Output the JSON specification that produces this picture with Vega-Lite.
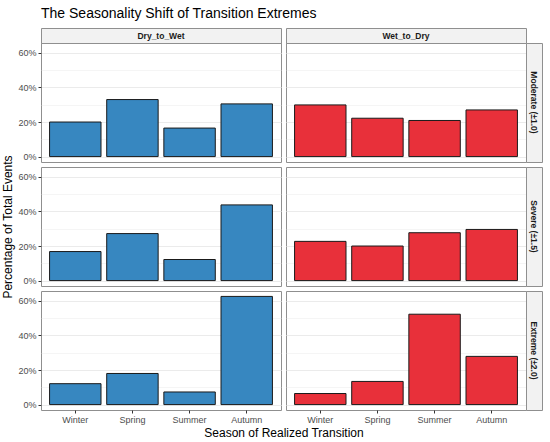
{
  "$schema": "https://vega.github.io/schema/vega-lite/v6.json",
  "padding": {"left": 1, "top": 6, "right": 5, "bottom": 5},
  "title": {"text": "The Seasonality Shift of Transition Extremes", "anchor": "start", "frame": "group", "fontSize": 14, "fontWeight": "normal", "font": "Liberation Sans", "color": "#000000", "offset": 5},
  "datasets": {
    "events": [
      {"direction": "Dry_to_Wet", "severity": "Moderate", "season": "Winter", "pct": 20.0},
      {"direction": "Dry_to_Wet", "severity": "Moderate", "season": "Spring", "pct": 33.0},
      {"direction": "Dry_to_Wet", "severity": "Moderate", "season": "Summer", "pct": 16.5},
      {"direction": "Dry_to_Wet", "severity": "Moderate", "season": "Autumn", "pct": 30.5},
      {"direction": "Wet_to_Dry", "severity": "Moderate", "season": "Winter", "pct": 29.9},
      {"direction": "Wet_to_Dry", "severity": "Moderate", "season": "Spring", "pct": 22.2},
      {"direction": "Wet_to_Dry", "severity": "Moderate", "season": "Summer", "pct": 20.9},
      {"direction": "Wet_to_Dry", "severity": "Moderate", "season": "Autumn", "pct": 27.0},
      {"direction": "Dry_to_Wet", "severity": "Severe", "season": "Winter", "pct": 16.8},
      {"direction": "Dry_to_Wet", "severity": "Severe", "season": "Spring", "pct": 27.2},
      {"direction": "Dry_to_Wet", "severity": "Severe", "season": "Summer", "pct": 12.2},
      {"direction": "Dry_to_Wet", "severity": "Severe", "season": "Autumn", "pct": 43.8},
      {"direction": "Wet_to_Dry", "severity": "Severe", "season": "Winter", "pct": 22.7},
      {"direction": "Wet_to_Dry", "severity": "Severe", "season": "Spring", "pct": 20.0},
      {"direction": "Wet_to_Dry", "severity": "Severe", "season": "Summer", "pct": 27.7},
      {"direction": "Wet_to_Dry", "severity": "Severe", "season": "Autumn", "pct": 29.6},
      {"direction": "Dry_to_Wet", "severity": "Extreme", "season": "Winter", "pct": 12.1},
      {"direction": "Dry_to_Wet", "severity": "Extreme", "season": "Spring", "pct": 18.0},
      {"direction": "Dry_to_Wet", "severity": "Extreme", "season": "Summer", "pct": 7.3},
      {"direction": "Dry_to_Wet", "severity": "Extreme", "season": "Autumn", "pct": 62.6},
      {"direction": "Wet_to_Dry", "severity": "Extreme", "season": "Winter", "pct": 6.4},
      {"direction": "Wet_to_Dry", "severity": "Extreme", "season": "Spring", "pct": 13.4},
      {"direction": "Wet_to_Dry", "severity": "Extreme", "season": "Summer", "pct": 52.3},
      {"direction": "Wet_to_Dry", "severity": "Extreme", "season": "Autumn", "pct": 27.9}
    ]
  },
  "columns": 4,
  "spacing": 0,
  "bounds": "flush",
  "concat": [
    {
      "width": 240, "height": 15,
      "data": {"values": [{"label": "Dry_to_Wet"}]},
      "view": {"fill": "#f2f2f2", "stroke": "#8f8f8f"},
      "mark": {"type": "text", "fontWeight": "bold", "fontSize": 8.5, "font": "Liberation Sans", "color": "#1a1a1a"},
      "encoding": {"text": {"field": "label"}}
    },
    {
      "width": 5, "height": 1,
      "data": {"values": [{}]},
      "mark": "point",
      "encoding": {"opacity": {"value": 0}}
    },
    {
      "width": 240, "height": 15,
      "data": {"values": [{"label": "Wet_to_Dry"}]},
      "view": {"fill": "#f2f2f2", "stroke": "#8f8f8f"},
      "mark": {"type": "text", "fontWeight": "bold", "fontSize": 8.5, "font": "Liberation Sans", "color": "#1a1a1a"},
      "encoding": {"text": {"field": "label"}}
    },
    {
      "width": 16, "height": 1,
      "data": {"values": [{}]},
      "mark": "point",
      "encoding": {"opacity": {"value": 0}}
    },

    {
      "width": 240, "height": 119,
      "data": {"name": "events"},
      "transform": [{"filter": "datum.direction === 'Dry_to_Wet' && datum.severity === 'Moderate'"}],
      "view": {"stroke": "#8f8f8f"},
      "mark": {"type": "bar", "fill": "#3787c0", "stroke": "#1a1a1a", "strokeWidth": 1},
      "encoding": {
        "x": {"field": "season", "type": "nominal", "sort": ["Winter", "Spring", "Summer", "Autumn"],
              "scale": {"paddingInner": 0.1, "paddingOuter": 0.15},
              "axis": {"labels": false, "ticks": false, "title": null, "bandPosition": 0.5}},
        "y": {"field": "pct", "type": "quantitative", "scale": {"domain": [-3.13, 65.73], "nice": false, "zero": false},
              "axis": {"values": [0, 10, 20, 30, 40, 50, 60], "title": null,
                       "labelExpr": "datum.value % 20 === 0 ? datum.value + '%' : ''",
                       "tickColor": {"expr": "datum.value % 20 === 0 ? '#333333' : 'transparent'"},
                       "gridWidth": {"expr": "datum.value % 20 === 0 ? 1 : 0.5"}}},
        "y2": {"datum": 0}
      }
    },
    {
      "width": 5, "height": 1,
      "data": {"values": [{}]},
      "mark": "point",
      "encoding": {"opacity": {"value": 0}}
    },
    {
      "width": 240, "height": 119,
      "data": {"name": "events"},
      "transform": [{"filter": "datum.direction === 'Wet_to_Dry' && datum.severity === 'Moderate'"}],
      "view": {"stroke": "#8f8f8f"},
      "mark": {"type": "bar", "fill": "#e8303a", "stroke": "#1a1a1a", "strokeWidth": 1},
      "encoding": {
        "x": {"field": "season", "type": "nominal", "sort": ["Winter", "Spring", "Summer", "Autumn"],
              "scale": {"paddingInner": 0.1, "paddingOuter": 0.15},
              "axis": {"labels": false, "ticks": false, "title": null, "bandPosition": 0.5}},
        "y": {"field": "pct", "type": "quantitative", "scale": {"domain": [-3.13, 65.73], "nice": false, "zero": false},
              "axis": {"values": [0, 10, 20, 30, 40, 50, 60], "title": null, "labels": false, "ticks": false,
                       "gridWidth": {"expr": "datum.value % 20 === 0 ? 1 : 0.5"}}},
        "y2": {"datum": 0}
      }
    },
    {
      "width": 16, "height": 119,
      "data": {"values": [{"label": "Moderate (±1.0)"}]},
      "view": {"fill": "#f2f2f2", "stroke": "#8f8f8f"},
      "mark": {"type": "text", "angle": 90, "fontWeight": "bold", "fontSize": 8.5, "font": "Liberation Sans", "color": "#1a1a1a"},
      "encoding": {"text": {"field": "label"}}
    },

    {"width": 1, "height": 5, "data": {"values": [{}]}, "mark": "point", "encoding": {"opacity": {"value": 0}}},
    {"width": 1, "height": 5, "data": {"values": [{}]}, "mark": "point", "encoding": {"opacity": {"value": 0}}},
    {"width": 1, "height": 5, "data": {"values": [{}]}, "mark": "point", "encoding": {"opacity": {"value": 0}}},
    {"width": 1, "height": 5, "data": {"values": [{}]}, "mark": "point", "encoding": {"opacity": {"value": 0}}},

    {
      "width": 240, "height": 119,
      "data": {"name": "events"},
      "transform": [{"filter": "datum.direction === 'Dry_to_Wet' && datum.severity === 'Severe'"}],
      "view": {"stroke": "#8f8f8f"},
      "mark": {"type": "bar", "fill": "#3787c0", "stroke": "#1a1a1a", "strokeWidth": 1},
      "encoding": {
        "x": {"field": "season", "type": "nominal", "sort": ["Winter", "Spring", "Summer", "Autumn"],
              "scale": {"paddingInner": 0.1, "paddingOuter": 0.15},
              "axis": {"labels": false, "ticks": false, "title": null, "bandPosition": 0.5}},
        "y": {"field": "pct", "type": "quantitative", "scale": {"domain": [-3.13, 65.73], "nice": false, "zero": false},
              "axis": {"values": [0, 10, 20, 30, 40, 50, 60], "title": "Percentage of Total Events", "titlePadding": 3,
                       "labelExpr": "datum.value % 20 === 0 ? datum.value + '%' : ''",
                       "tickColor": {"expr": "datum.value % 20 === 0 ? '#333333' : 'transparent'"},
                       "gridWidth": {"expr": "datum.value % 20 === 0 ? 1 : 0.5"}}},
        "y2": {"datum": 0}
      }
    },
    {"width": 5, "height": 1, "data": {"values": [{}]}, "mark": "point", "encoding": {"opacity": {"value": 0}}},
    {
      "width": 240, "height": 119,
      "data": {"name": "events"},
      "transform": [{"filter": "datum.direction === 'Wet_to_Dry' && datum.severity === 'Severe'"}],
      "view": {"stroke": "#8f8f8f"},
      "mark": {"type": "bar", "fill": "#e8303a", "stroke": "#1a1a1a", "strokeWidth": 1},
      "encoding": {
        "x": {"field": "season", "type": "nominal", "sort": ["Winter", "Spring", "Summer", "Autumn"],
              "scale": {"paddingInner": 0.1, "paddingOuter": 0.15},
              "axis": {"labels": false, "ticks": false, "title": null, "bandPosition": 0.5}},
        "y": {"field": "pct", "type": "quantitative", "scale": {"domain": [-3.13, 65.73], "nice": false, "zero": false},
              "axis": {"values": [0, 10, 20, 30, 40, 50, 60], "title": null, "labels": false, "ticks": false,
                       "gridWidth": {"expr": "datum.value % 20 === 0 ? 1 : 0.5"}}},
        "y2": {"datum": 0}
      }
    },
    {
      "width": 16, "height": 119,
      "data": {"values": [{"label": "Severe (±1.5)"}]},
      "view": {"fill": "#f2f2f2", "stroke": "#8f8f8f"},
      "mark": {"type": "text", "angle": 90, "fontWeight": "bold", "fontSize": 8.5, "font": "Liberation Sans", "color": "#1a1a1a"},
      "encoding": {"text": {"field": "label"}}
    },

    {"width": 1, "height": 5, "data": {"values": [{}]}, "mark": "point", "encoding": {"opacity": {"value": 0}}},
    {"width": 1, "height": 5, "data": {"values": [{}]}, "mark": "point", "encoding": {"opacity": {"value": 0}}},
    {"width": 1, "height": 5, "data": {"values": [{}]}, "mark": "point", "encoding": {"opacity": {"value": 0}}},
    {"width": 1, "height": 5, "data": {"values": [{}]}, "mark": "point", "encoding": {"opacity": {"value": 0}}},

    {
      "width": 240, "height": 119,
      "data": {"name": "events"},
      "transform": [{"filter": "datum.direction === 'Dry_to_Wet' && datum.severity === 'Extreme'"}],
      "view": {"stroke": "#8f8f8f"},
      "mark": {"type": "bar", "fill": "#3787c0", "stroke": "#1a1a1a", "strokeWidth": 1},
      "encoding": {
        "x": {"field": "season", "type": "nominal", "sort": ["Winter", "Spring", "Summer", "Autumn"],
              "scale": {"paddingInner": 0.1, "paddingOuter": 0.15},
              "axis": {"title": "Season of Realized Transition", "titleX": 242.5, "titlePadding": 3, "labelAngle": 0, "bandPosition": 0.5}},
        "y": {"field": "pct", "type": "quantitative", "scale": {"domain": [-3.13, 65.73], "nice": false, "zero": false},
              "axis": {"values": [0, 10, 20, 30, 40, 50, 60], "title": null,
                       "labelExpr": "datum.value % 20 === 0 ? datum.value + '%' : ''",
                       "tickColor": {"expr": "datum.value % 20 === 0 ? '#333333' : 'transparent'"},
                       "gridWidth": {"expr": "datum.value % 20 === 0 ? 1 : 0.5"}}},
        "y2": {"datum": 0}
      }
    },
    {"width": 5, "height": 1, "data": {"values": [{}]}, "mark": "point", "encoding": {"opacity": {"value": 0}}},
    {
      "width": 240, "height": 119,
      "data": {"name": "events"},
      "transform": [{"filter": "datum.direction === 'Wet_to_Dry' && datum.severity === 'Extreme'"}],
      "view": {"stroke": "#8f8f8f"},
      "mark": {"type": "bar", "fill": "#e8303a", "stroke": "#1a1a1a", "strokeWidth": 1},
      "encoding": {
        "x": {"field": "season", "type": "nominal", "sort": ["Winter", "Spring", "Summer", "Autumn"],
              "scale": {"paddingInner": 0.1, "paddingOuter": 0.15},
              "axis": {"title": null, "labelAngle": 0, "bandPosition": 0.5}},
        "y": {"field": "pct", "type": "quantitative", "scale": {"domain": [-3.13, 65.73], "nice": false, "zero": false},
              "axis": {"values": [0, 10, 20, 30, 40, 50, 60], "title": null, "labels": false, "ticks": false,
                       "gridWidth": {"expr": "datum.value % 20 === 0 ? 1 : 0.5"}}},
        "y2": {"datum": 0}
      }
    },
    {
      "width": 16, "height": 119,
      "data": {"values": [{"label": "Extreme (±2.0)"}]},
      "view": {"fill": "#f2f2f2", "stroke": "#8f8f8f"},
      "mark": {"type": "text", "angle": 90, "fontWeight": "bold", "fontSize": 8.5, "font": "Liberation Sans", "color": "#1a1a1a"},
      "encoding": {"text": {"field": "label"}}
    }
  ],
  "config": {
    "view": {"stroke": null},
    "axis": {
      "domain": false,
      "gridColor": "#ebebeb",
      "labelColor": "#4d4d4d",
      "labelFont": "Liberation Sans",
      "labelFontSize": 9,
      "tickColor": "#333333",
      "tickSize": 3,
      "labelPadding": 2,
      "titleFont": "Liberation Sans",
      "titleFontSize": 12,
      "titleFontWeight": "normal",
      "titleColor": "#000000"
    }
  }
}
